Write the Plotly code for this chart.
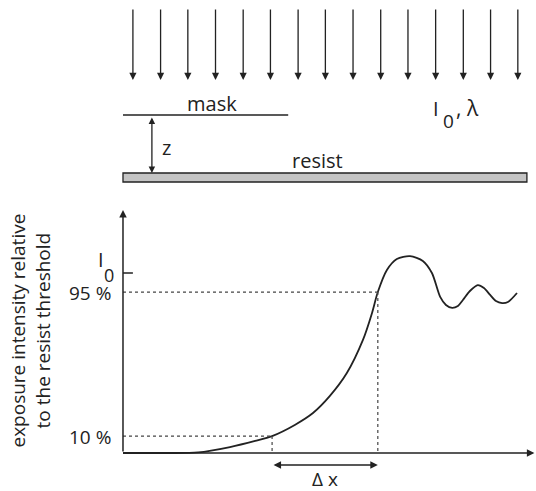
import plotly.graph_objects as go

# ---------------- data ----------------
# intensity profile behind the mask edge (x: position, arbitrary units; y: intensity relative to I0)
x_pos = [0, 9.0, 18.2, 25.9, 32.0, 36.1, 41.6, 46.0, 50.1, 54.2, 58.1, 60.3, 61.7, 63.9,
         66.3, 69.5, 72.6, 74.8, 76.8, 78.2, 79.7, 81.1, 82.3, 84.0, 85.9, 87.4, 88.9,
         90.3, 91.8, 93.2, 95.4]
intensity = [0, 0, 0.003, 0.033, 0.067, 0.094, 0.156, 0.222, 0.317, 0.444, 0.628, 0.778,
             0.894, 1.017, 1.078, 1.094, 1.067, 1.0, 0.867, 0.822, 0.806, 0.817, 0.85, 0.9,
             0.933, 0.917, 0.878, 0.844, 0.833, 0.839, 0.889]

level_values = [0.094, 0.894, 1.0]
level_labels = ["10 %", "95 %", "I"]
level_sub = ["", "", "0"]
level_cross_x = [36.1, 61.7]          # where the profile crosses 10 % and 95 %

# schematic (upper part): positions along the same x scale, heights in schematic units
beam_x = [2.4, 9.1, 15.7, 22.4, 29.1, 35.7, 42.4, 49.0, 55.7, 62.4, 69.0, 75.7, 82.4, 89.0, 95.6]
beam_top, beam_bottom = 8, 80
mask_x = [0, 40.0]
mask_y = 115
resist_x = [0, 97.8]
resist_y = [173, 182]
gap_x = 7.0

FONT = "Open Sans"
INK = "#222222"
FS = 20

fig = go.Figure()

fig.add_trace(go.Scatter(
    x=x_pos, y=intensity, mode="lines",
    line=dict(color=INK, width=1.8, shape="spline", smoothing=0.8),
    hoverinfo="skip", showlegend=False))

shapes = []
annotations = []

# dotted guide lines
for xv, yv in zip(level_cross_x, level_values[:2]):
    shapes.append(dict(type="line", xref="x", yref="y", x0=0, x1=xv, y0=yv, y1=yv,
                       line=dict(color="#444", width=1.2, dash="dot")))
    shapes.append(dict(type="line", xref="x", yref="y", x0=xv, x1=xv, y0=yv, y1=0,
                       line=dict(color="#444", width=1.2, dash="dot")))

# I0 tick
shapes.append(dict(type="line", xref="x", yref="y", x0=0, x1=2.4, y0=level_values[2],
                   y1=level_values[2], line=dict(color=INK, width=1.5)))

# axes with arrow heads
annotations.append(dict(x=0, y=1.35, ax=0, ay=0, xref="x", yref="y", axref="x", ayref="y",
                        showarrow=True, arrowhead=2, arrowsize=1, arrowwidth=1.5,
                        arrowcolor=INK, text=""))
annotations.append(dict(x=99.6, y=0, ax=0, ay=0, xref="x", yref="y", axref="x", ayref="y",
                        showarrow=True, arrowhead=2, arrowsize=1, arrowwidth=1.5,
                        arrowcolor=INK, text=""))

# level labels
for yv, lab, sub in zip(level_values, level_labels, level_sub):
    if sub:
        annotations.append(dict(x=-4.0, y=yv + 0.075, xref="x", yref="y", text=lab,
                                showarrow=False, xanchor="right", yanchor="middle",
                                font=dict(family=FONT, size=FS, color=INK)))
        annotations.append(dict(x=-1.6, y=yv - 0.01, xref="x", yref="y", text=sub,
                                showarrow=False, xanchor="right", yanchor="middle",
                                font=dict(family=FONT, size=FS - 2, color=INK)))
    else:
        annotations.append(dict(x=-2.4, y=yv - 0.005, xref="x", yref="y", text=lab,
                                showarrow=False, xanchor="right", yanchor="middle",
                                font=dict(family=FONT, size=FS - 1, color=INK)))

# delta x arrow
annotations.append(dict(x=level_cross_x[1], y=-0.067, ax=level_cross_x[0], ay=-0.067,
                        xref="x", yref="y", axref="x", ayref="y", showarrow=True,
                        arrowhead=2, startarrowhead=2, arrowside="end+start",
                        arrowsize=1, arrowwidth=1.5, arrowcolor=INK, text=""))
annotations.append(dict(x=(level_cross_x[0] + level_cross_x[1]) / 2, y=-0.145, xref="x", yref="y",
                        text="Δ x", showarrow=False,
                        font=dict(family=FONT, size=FS - 1, color=INK)))

# y-axis title
annotations.append(dict(x=-22.4, y=0.683, xref="x", yref="y",
                        text="exposure intensity relative<br>to the resist threshold",
                        textangle=-90, showarrow=False,
                        font=dict(family=FONT, size=19, color=INK)))

# ---------- schematic ----------
for bx in beam_x:
    annotations.append(dict(x=bx, y=beam_bottom, ax=bx, ay=beam_top, xref="x", yref="y2",
                            axref="x", ayref="y2", showarrow=True, arrowhead=2,
                            arrowsize=1.1, arrowwidth=1.3, arrowcolor=INK, text=""))

shapes.append(dict(type="line", xref="x", yref="y2", x0=mask_x[0], x1=mask_x[1],
                   y0=mask_y, y1=mask_y, line=dict(color=INK, width=1.5)))
shapes.append(dict(type="rect", xref="x", yref="y2", x0=resist_x[0], x1=resist_x[1],
                   y0=resist_y[0], y1=resist_y[1], fillcolor="#c4c4c4",
                   line=dict(color=INK, width=1.3)))
annotations.append(dict(x=gap_x, y=resist_y[0], ax=gap_x, ay=mask_y + 1, xref="x", yref="y2",
                        axref="x", ayref="y2", showarrow=True, arrowhead=2, startarrowhead=2,
                        arrowside="end+start", arrowsize=1, arrowwidth=1.3, arrowcolor=INK,
                        text=""))
annotations.append(dict(x=9.0, y=147, xref="x", yref="y2", text="z", showarrow=False,
                        xanchor="left", font=dict(family=FONT, size=FS, color=INK)))
annotations.append(dict(x=21.5, y=103, xref="x", yref="y2", text="mask", showarrow=False,
                        font=dict(family=FONT, size=FS, color=INK)))
annotations.append(dict(x=47.2, y=160, xref="x", yref="y2", text="resist", showarrow=False,
                        font=dict(family=FONT, size=FS, color=INK)))
# I0, lambda label
annotations.append(dict(x=75.8, y=108, xref="x", yref="y2", text="I", showarrow=False,
                        xanchor="center", font=dict(family=FONT, size=FS, color=INK)))
annotations.append(dict(x=77.0, y=121, xref="x", yref="y2", text="0", showarrow=False,
                        xanchor="left", font=dict(family=FONT, size=FS - 1, color=INK)))
annotations.append(dict(x=80.2, y=108, xref="x", yref="y2", text=", λ", showarrow=False,
                        xanchor="left", font=dict(family=FONT, size=FS + 1, color=INK)))

fig.update_layout(
    width=536, height=491,
    margin=dict(l=0, r=0, t=0, b=0),
    paper_bgcolor="white", plot_bgcolor="white",
    xaxis=dict(range=[-29.78, 100], domain=[0, 1], visible=False, fixedrange=True),
    yaxis=dict(range=[-0.2111, 2.5167], domain=[0, 1], visible=False, fixedrange=True),
    yaxis2=dict(range=[491, 0], domain=[0, 1], overlaying="y", anchor="x",
                visible=False, fixedrange=True),
    shapes=shapes, annotations=annotations, showlegend=False,
)

fig.write_html("out.html", config={"displayModeBar": False},
               post_script="document.body.style.margin='0';document.body.style.padding='0';")
